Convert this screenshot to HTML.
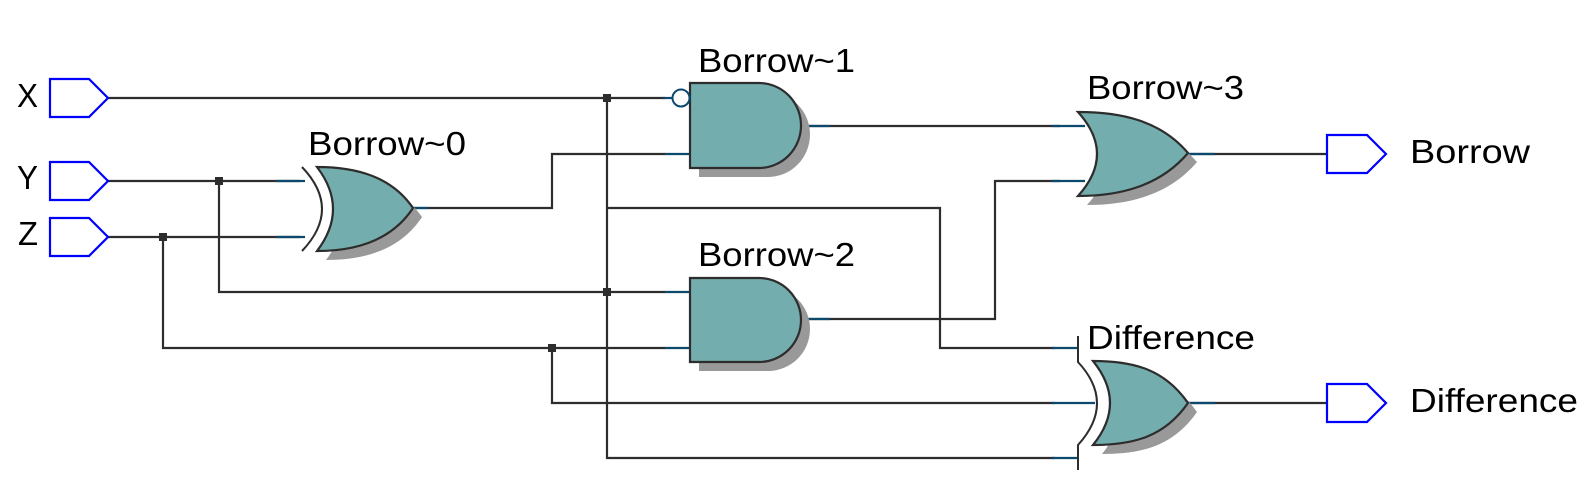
<!DOCTYPE html>
<html><head><meta charset="utf-8"><style>
html,body{margin:0;padding:0;background:#fff;}
svg{display:block;}
text{font-family:"Liberation Sans",sans-serif;fill:#000;}
</style></head><body>
<svg width="1593" height="486" viewBox="0 0 1593 486" xmlns="http://www.w3.org/2000/svg">
<g fill="none" stroke="#2d2d2d" stroke-width="2.2">
<!-- X -->
<path d="M108 98 H665"/>
<!-- Y -->
<path d="M108 181 H300"/>
<path d="M219 181 V292 H665"/>
<!-- Z -->
<path d="M108 237 H300"/>
<path d="M163 237 V348 H665"/>
<!-- x=607 branch -->
<path d="M607 98 V458 H1055"/>
<path d="M607 208 H940 V348 H1055"/>
<!-- 552 branch -->
<path d="M552 348 V403 H1055"/>
<!-- XOR0 out -->
<path d="M412 208 H552 V154 H665"/>
<!-- AND1 out -->
<path d="M800 126 H1060"/>
<!-- AND2 out -->
<path d="M800 319 H995 V181 H1060"/>
<!-- outputs -->
<path d="M1188 154 H1327"/>
<path d="M1188 403 H1327"/>
</g>
<!-- blue stubs -->
<g fill="none" stroke="#0b4a6e" stroke-width="2.2">
<path d="M276 181 H305 M276 237 H305"/>
<path d="M412 208 H428"/>
<path d="M665 154 H690 M665 292 H690 M665 348 H690"/>
<path d="M663 98 H672"/>
<path d="M800 126 H830 M800 319 H830"/>
<path d="M1052 126 H1085 M1052 181 H1085"/>
<path d="M1052 348 H1078 M1052 403 H1095 M1052 458 H1078"/>
<path d="M1188 154 H1215 M1188 403 H1215"/>
</g>
<!-- junctions -->
<g fill="#2d2d2d">
<rect x="215" y="177" width="8" height="8"/>
<rect x="159" y="233" width="8" height="8"/>
<rect x="603" y="94" width="8" height="8"/>
<rect x="603" y="288" width="8" height="8"/>
<rect x="548" y="344" width="8" height="8"/>
</g>
<!-- shadows -->
<g fill="#999">
<path transform="translate(9,9)" d="M317 167 C357 167 392 177 413 208 C392 240 357 251 317 251 Q349 209 317 167 Z"/>
<path transform="translate(9,9)" d="M690 83 H759 A42 42.5 0 0 1 759 168 H690 Z"/>
<path transform="translate(9,9)" d="M690 278 H759 A42 42 0 0 1 759 362 H690 Z"/>
<path transform="translate(9,9)" d="M1078 112 C1120 112 1160 120 1188 153 C1160 186 1120 196 1078 196 Q1116 154 1078 112 Z"/>
<path transform="translate(9,9)" d="M1093 361 C1135 361 1165 370 1188 403 C1165 436 1135 445 1093 445 Q1127 403 1093 361 Z"/>
</g>
<!-- gates -->
<g fill="#74adad" stroke="#2d2d2d" stroke-width="2.2">
<path d="M317 167 C357 167 392 177 413 208 C392 240 357 251 317 251 Q349 209 317 167 Z"/>
<path d="M690 83 H759 A42 42.5 0 0 1 759 168 H690 Z"/>
<path d="M690 278 H759 A42 42 0 0 1 759 362 H690 Z"/>
<path d="M1078 112 C1120 112 1160 120 1188 153 C1160 186 1120 196 1078 196 Q1116 154 1078 112 Z"/>
<path d="M1093 361 C1135 361 1165 370 1188 403 C1165 436 1135 445 1093 445 Q1127 403 1093 361 Z"/>
</g>
<g fill="none" stroke="#2d2d2d" stroke-width="2">
<path d="M302 167 Q342 209 302 251"/>
<path d="M1078 336 V362 Q1116 403 1078 445 V470"/>
</g>
<circle cx="681" cy="98" r="8.5" fill="#fff" stroke="#0b4a6e" stroke-width="2"/>
<!-- pins -->
<g fill="#fff" stroke="#0000ff" stroke-width="2.2">
<path d="M50 79 H89 L108 98 L89 117 H50 Z"/>
<path d="M50 162 H89 L108 181 L89 200 H50 Z"/>
<path d="M50 218 H89 L108 237 L89 256 H50 Z"/>
<path d="M1327 135 H1367 L1386 154 L1367 173 H1327 Z"/>
<path d="M1327 384 H1367 L1386 403 L1367 422 H1327 Z"/>
</g>
<!-- labels -->
<g font-size="33">
<text x="17" y="107" textLength="21" lengthAdjust="spacingAndGlyphs">X</text>
<text x="17" y="189" textLength="21" lengthAdjust="spacingAndGlyphs">Y</text>
<text x="18" y="245" textLength="20" lengthAdjust="spacingAndGlyphs">Z</text>
<text x="308" y="155" textLength="158" lengthAdjust="spacingAndGlyphs">Borrow~0</text>
<text x="698" y="72" textLength="157" lengthAdjust="spacingAndGlyphs">Borrow~1</text>
<text x="698" y="266" textLength="157" lengthAdjust="spacingAndGlyphs">Borrow~2</text>
<text x="1087" y="99" textLength="157" lengthAdjust="spacingAndGlyphs">Borrow~3</text>
<text x="1087" y="349" textLength="168" lengthAdjust="spacingAndGlyphs">Difference</text>
<text x="1410" y="163" textLength="120" lengthAdjust="spacingAndGlyphs">Borrow</text>
<text x="1410" y="412" textLength="168" lengthAdjust="spacingAndGlyphs">Difference</text>
</g>
</svg>
</body></html>
